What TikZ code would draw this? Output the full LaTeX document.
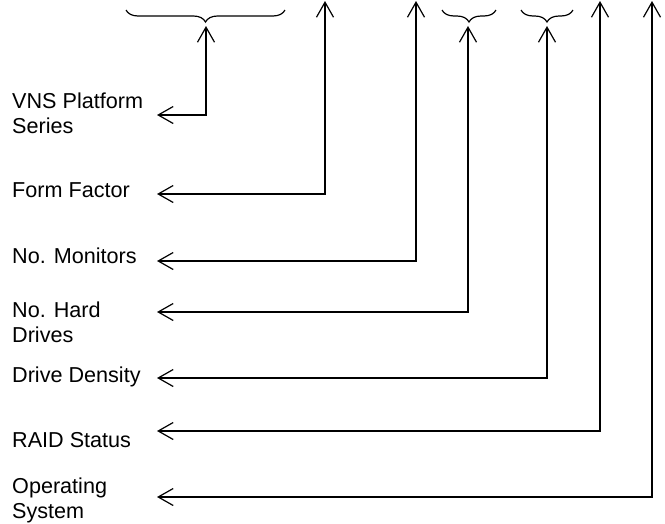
\documentclass[tikz,border=0pt]{standalone}
\usepackage{fontspec}
\setmainfont{Liberation Sans}
\usetikzlibrary{arrows.meta,decorations.pathreplacing}
\begin{document}
\begin{tikzpicture}[x=1pt,y=-1pt,
  lbl/.style={anchor=base west,inner sep=0pt,align=left,font=\fontsize{21.6}{24.5}\selectfont},
  link/.style={line width=1.2pt,{Straight Barb[length=15pt,width=17pt]}-{Straight Barb[length=15pt,width=17pt]}},
  grp/.style={line width=1.2pt,decorate,decoration={brace,mirror,amplitude=12pt}}]

\useasboundingbox (0,0) rectangle (665,523);

% Labels on the left (two-line labels sit on their last line)
\node[lbl] (series)  at (12,133) {VNS Platform\\Series};
\node[lbl] (form)    at (12,197) {Form Factor};
\node[lbl] (monitor) at (12,263) {No. Monitors};
\node[lbl] (drives)  at (12,342) {No. Hard\\Drives};
\node[lbl] (density) at (12,382) {Drive Density};
\node[lbl] (raid)    at (12,447) {RAID Status};
\node[lbl] (os)      at (12,518) {Operating\\System};

% Braces over the grouped characters
\draw[grp] (126,10) -- (285,10);
\draw[grp] (442,10) -- (496,10);
\draw[grp] (521,10) -- (573,10);

% Top ends of the leaders
\coordinate (t1) at (206,26);
\coordinate (t2) at (325,1);
\coordinate (t3) at (416,1);
\coordinate (t4) at (468,26);
\coordinate (t5) at (547,26);
\coordinate (t6) at (600,1);
\coordinate (t7) at (652,1);

% Left ends, next to the labels
\coordinate (e1) at (157,115);
\coordinate (e2) at (157,194);
\coordinate (e3) at (157,261);
\coordinate (e4) at (157,312);
\coordinate (e5) at (157,378);
\coordinate (e6) at (157,431);
\coordinate (e7) at (157,497);

% Leaders
\foreach \i in {1,...,7}
  \draw[link] (t\i) |- (e\i);

\end{tikzpicture}
\end{document}
